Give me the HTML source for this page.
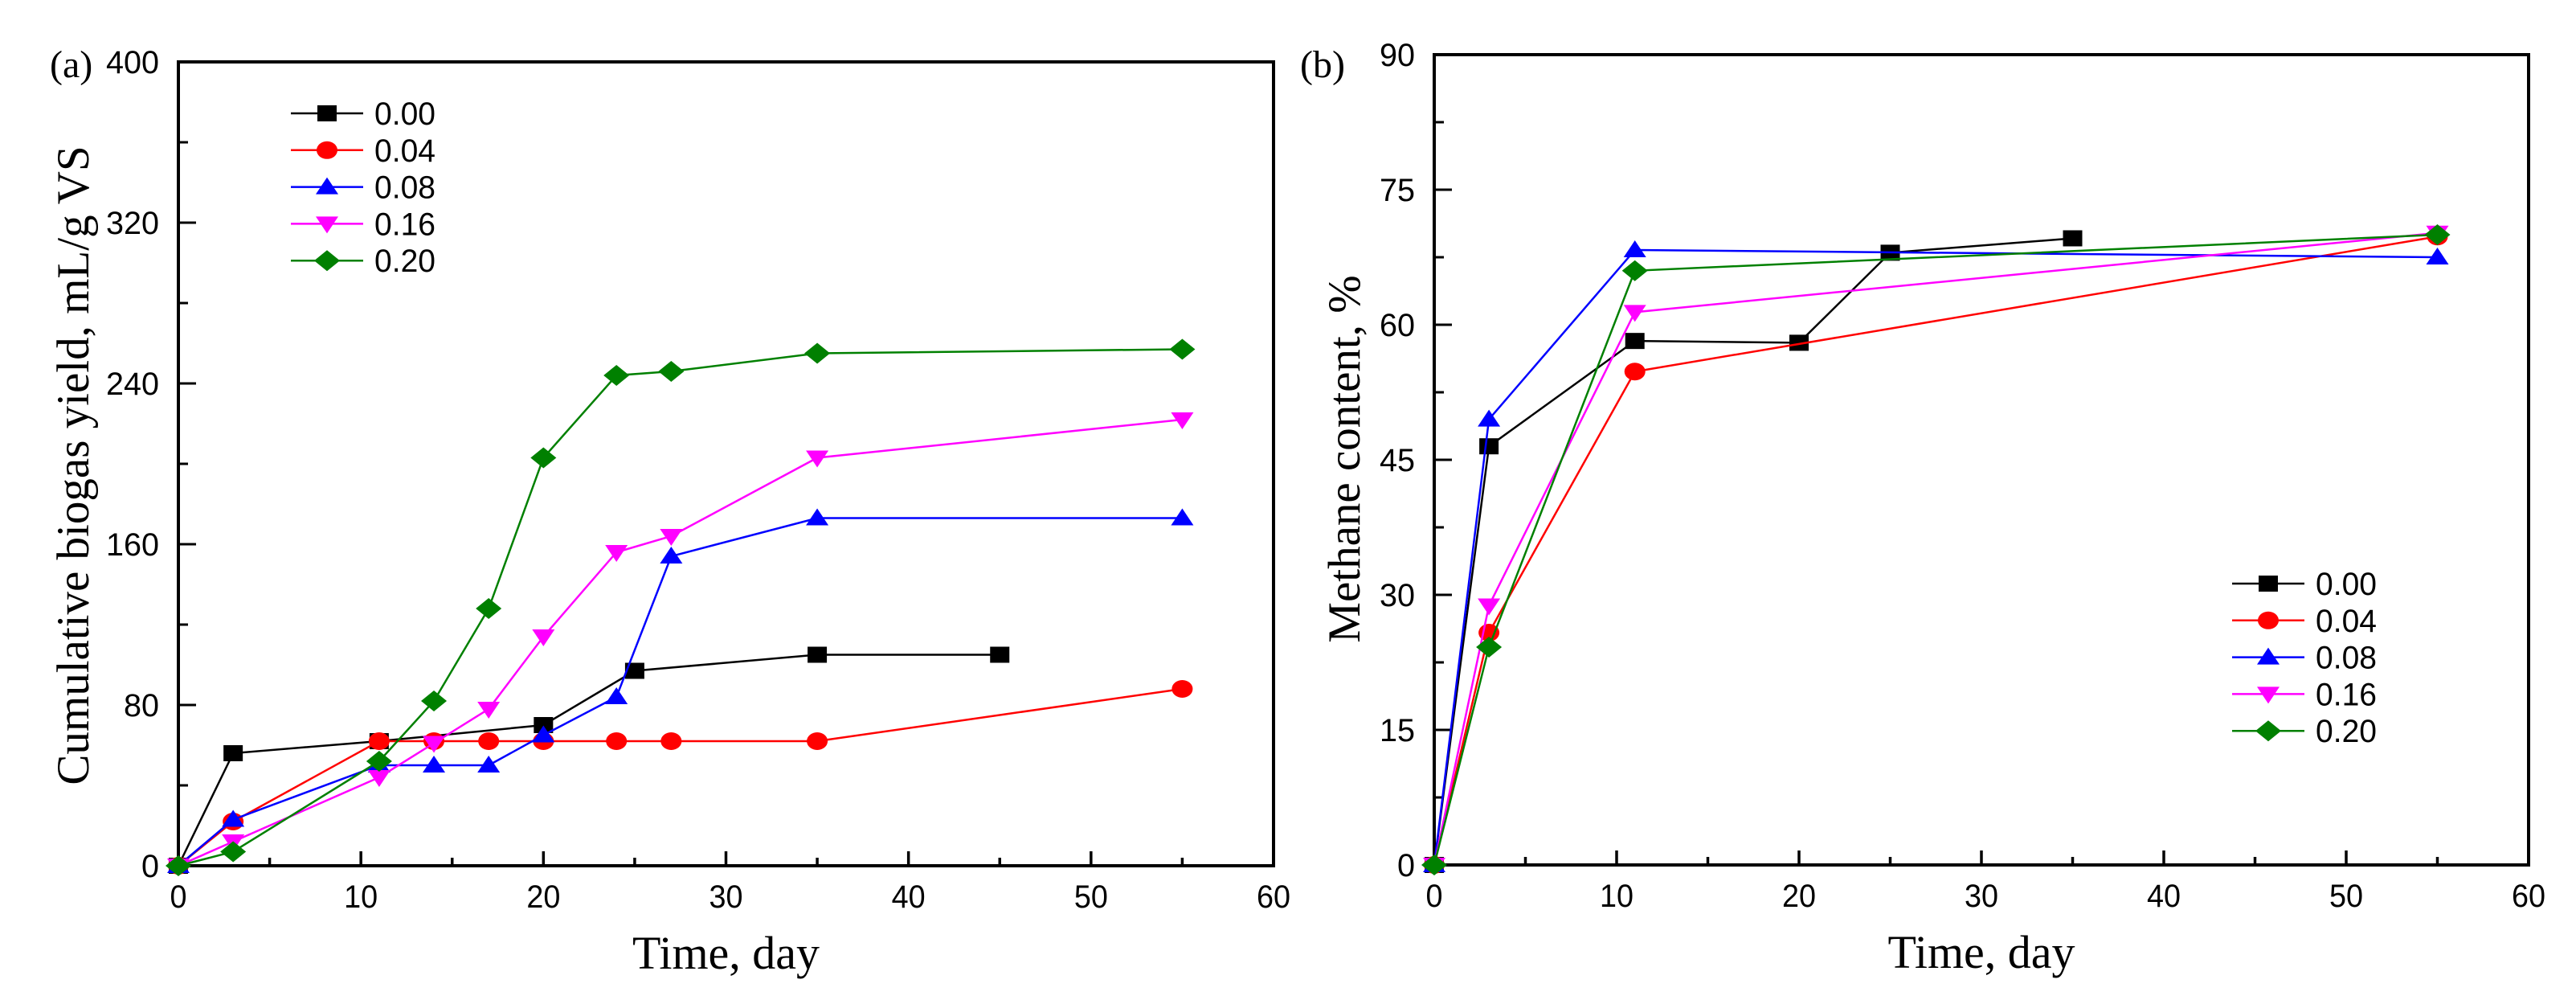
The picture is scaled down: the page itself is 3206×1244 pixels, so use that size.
<!DOCTYPE html>
<html><head><meta charset="utf-8"><style>
html,body{margin:0;padding:0;background:#fff;overflow:hidden;width:3206px;height:1244px}
svg{display:block}
svg text{font-family:"Liberation Sans",Arial,sans-serif}
.serif{font-family:"Liberation Serif","Times New Roman",serif}
</style></head><body>
<svg id="c" width="3206" height="1244" viewBox="0 0 3206 1244" xmlns="http://www.w3.org/2000/svg"></svg>
<script>
const seriesNames=["0.00","0.04","0.08","0.16","0.20"];
const colors=["#000000","#ff0000","#0000ff","#ff00ff","#008000"];
const shapes=["square","circle","tri","itri","diamond"];
const aX=[[0,3,11,20,25,35,45],[0,3,11,14,17,20,24,27,35,55],[0,3,11,14,17,20,24,27,35,55],[0,3,11,14,17,20,24,27,35,55],[0,3,11,14,17,20,24,27,35,55]];
const aY=[[0,56,62,70,97,105,105],[0,22,62,62,62,62,62,62,62,88],[0,23,50,50,50,65,84,154,173,173],[0,12,44,61,78,114,156,164,203,222],[0,7,52,82,128,203,244,246,255,257]];
const bX=[[0,3,11,20,25,35],[0,3,11,55],[0,3,11,55],[0,3,11,55],[0,3,11,55]];
const bY=[[0,46.5,58.2,58,68,69.6],[0,25.8,54.8,69.8],[0,49.5,68.3,67.5],[0,28.8,61.4,70.2],[0,24.2,66,70]];
const xTicks=[0,10,20,30,40,50,60];
const aYTicks=[0,80,160,240,320,400];
const bYTicks=[0,15,30,45,60,75,90];
const NS="http://www.w3.org/2000/svg";
const svg=document.getElementById('c');
function mk(t,a,p){const e=document.createElementNS(NS,t);for(const k in a)e.setAttribute(k,a[k]);(p||svg).appendChild(e);return e;}
function marker(g,s,x,y,c){const w=12,h=10;let e;
 if(s=="square")e=mk('rect',{x:x-w,y:y-h,width:2*w,height:2*h,fill:c},g);
 else if(s=="circle")e=mk('ellipse',{cx:x,cy:y,rx:w+1,ry:h+1,fill:c},g);
 else if(s=="tri")e=mk('polygon',{points:`${x},${y-12} ${x+14},${y+9} ${x-14},${y+9}`,fill:c},g);
 else if(s=="itri")e=mk('polygon',{points:`${x},${y+12} ${x+14},${y-9} ${x-14},${y-9}`,fill:c},g);
 else e=mk('polygon',{points:`${x},${y-13} ${x+16},${y} ${x},${y+13} ${x-16},${y}`,fill:c},g);
 
 
}
function panel(o){
 const g=mk('g',{});
 
 
 const sx=v=>o.L+(v-0)/60*(o.R-o.L), sy=v=>o.B-v/o.ymax*(o.B-o.T);
 const fr=mk('rect',{x:o.L,y:o.T,width:o.R-o.L,height:o.B-o.T,fill:'none',stroke:'#000','stroke-width':4},g);
 
 for(let v=0;v<=60;v+=5){const x=sx(v),len=v%10==0?18:10;mk('line',{x1:x,x2:x,y1:o.B,y2:o.B-len,stroke:'#000','stroke-width':3.5},g);}
 xTicks.forEach(v=>{const t=mk('text',{x:sx(v),y:o.B+52,'font-size':40,'text-anchor':'middle',textLength:String(v).length*21,lengthAdjust:'spacingAndGlyphs'},g);t.textContent=v;
  });
 const st=o.yt[1]-o.yt[0];
 for(let v=0;v<=o.ymax;v+=st/2){const y=sy(v),len=(v%st==0)?22:12;mk('line',{x1:o.L,x2:o.L+len,y1:y,y2:y,stroke:'#000','stroke-width':3},g);}
 o.yt.forEach(v=>{const t=mk('text',{x:o.L-24,y:sy(v)+14,'font-size':40,'text-anchor':'end',textLength:String(v).length*22,lengthAdjust:'spacingAndGlyphs'},g);t.textContent=v;
  });
 const xt=mk('text',{x:(o.L+o.R)/2,y:o.B+128,'font-size':58,'text-anchor':'middle',class:'serif'},g);xt.textContent='Time, day';
 
 const yt=mk('text',{x:0,y:0,'font-size':57,'text-anchor':'middle',class:'serif',transform:`translate(${o.ytx},${o.ytc}) rotate(-90)`},g);yt.textContent=o.ytitle;
 
 const pl=mk('text',{x:o.plx,y:o.ply,'font-size':48,class:'serif'},g);pl.textContent=o.plabel;
 
 o.X.forEach((xs,i)=>{
  const sg=mk('g',{},g);
  
  
  const pts=xs.map((x,j)=>sx(x)+','+sy(o.Y[i][j])).join(' ');
  mk('polyline',{points:pts,fill:'none',stroke:colors[i],'stroke-width':2.5},sg);
  xs.forEach((x,j)=>marker(sg,shapes[i],sx(x),sy(o.Y[i][j]),colors[i]));
 });
 seriesNames.forEach((n,i)=>{
  const y=o.lg.y0+i*o.lg.dy;
  const lg=mk('g',{},g);
  
  
  mk('line',{x1:o.lg.x,x2:o.lg.x+90,y1:y,y2:y,stroke:colors[i],'stroke-width':2.5},lg);
  marker(lg,shapes[i],o.lg.x+45,y,colors[i]);
  const t=mk('text',{x:o.lg.x+104,y:y+14,'font-size':40,textLength:76,lengthAdjust:'spacingAndGlyphs'},lg);t.textContent=n;
 });
}
panel({name:'panel-a-biogas',L:222,R:1585,T:77,B:1077,ymax:400,yt:aYTicks,X:aX,Y:aY,ytitle:'Cumulative biogas yield, mL/g VS',ytx:110,ytc:579,plabel:'(a)',plx:62,ply:96,lg:{x:362,y0:141,dy:45.8}});
panel({name:'panel-b-methane',L:1785,R:3147,T:68,B:1076,ymax:90,yt:bYTicks,X:bX,Y:bY,ytitle:'Methane content, %',ytx:1692,ytc:571,plabel:'(b)',plx:1618,ply:96,lg:{x:2778,y0:726,dy:45.8}});
</script>
</body></html>
